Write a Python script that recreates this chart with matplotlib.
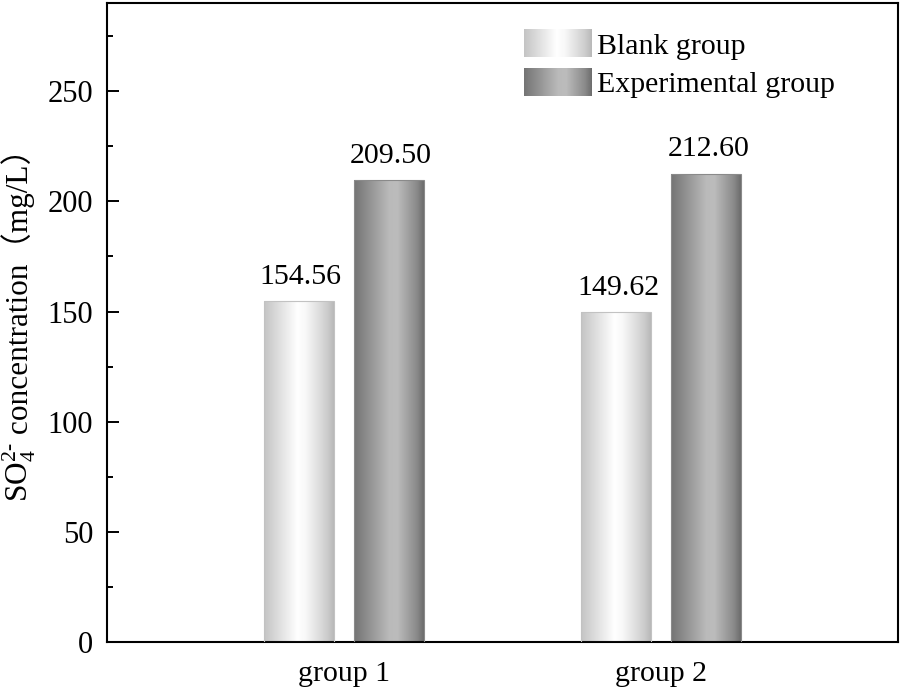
import numpy as np
import matplotlib
matplotlib.use("Agg")
import matplotlib.pyplot as plt
from matplotlib.colors import LinearSegmentedColormap
from matplotlib.legend_handler import HandlerBase
from matplotlib.image import BboxImage
from matplotlib.transforms import Bbox, TransformedBbox
from matplotlib.patches import Patch
from matplotlib.ticker import MultipleLocator

# data
groups = ['group 1', 'group 2']
series = ['Blank group', 'Experimental group']
blank = [154.56, 149.62]
experimental = [209.50, 212.60]

plt.rcParams['font.family'] = ['Liberation Serif', 'Noto Sans CJK SC', 'DejaVu Sans']
plt.rcParams['font.size'] = 21
plt.rcParams['mathtext.fontset'] = 'custom'
plt.rcParams['mathtext.rm'] = 'Liberation Serif'
plt.rcParams['mathtext.it'] = 'Liberation Serif:italic'
plt.rcParams['mathtext.bf'] = 'Liberation Serif:bold'

# cylinder-like shading for the bars
cm_blank = LinearSegmentedColormap.from_list(
    'blank', [(0, '#c4c4c4'), (0.48, '#ffffff'), (0.6, '#f8f8f8'), (0.9, '#cdcdcd'), (1, '#b8b8b8')])
cm_exp = LinearSegmentedColormap.from_list(
    'exp', [(0, '#747474'), (0.5, '#bababa'), (0.62, '#bcbcbc'), (0.9, '#8a8a8a'), (1, '#6c6c6c')])
grad = np.linspace(0, 1, 256).reshape(1, -1)


class GradientHandler(HandlerBase):
    def __init__(self, cmap):
        super().__init__()
        self.cmap = cmap

    def create_artists(self, legend, orig_handle, xdescent, ydescent,
                       width, height, fontsize, trans):
        bb = TransformedBbox(Bbox.from_bounds(-xdescent, -ydescent, width, height), trans)
        img = BboxImage(bb, cmap=self.cmap, interpolation='bicubic')
        img.set_data(grad)
        return [img]


fig = plt.figure(figsize=(9.05, 6.89), dpi=100)
ax = fig.add_axes([0.1182, 0.0682, 0.8741, 0.9274])

x = np.arange(1, len(groups) + 1)
w = 0.22
off = 0.1415

for vals, shift, cmap, ec in [(blank, -off, cm_blank, '#c2c2c2'),
                              (experimental, off, cm_exp, '#8a8a8a')]:
    bars = ax.bar(x + shift, vals, w, color='none', edgecolor=ec, linewidth=0.8, zorder=3)
    for rect, v in zip(bars, vals):
        x0, y0 = rect.get_x(), rect.get_y()
        im = ax.imshow(grad, cmap=cmap, aspect='auto', interpolation='bicubic',
                       extent=[x0, x0 + rect.get_width(), y0, y0 + rect.get_height()], zorder=2)
        im.set_clip_path(rect)
        ax.text(rect.get_x() + rect.get_width() / 2 + 0.006, v + 8.0, f'{v:.2f}',
                ha='center', va='baseline', fontsize=21.5)

ax.set_xlim(0.255, 2.745)
ax.set_ylim(0, 290)
ax.set_xticks(x, groups)
ax.tick_params(axis='x', length=0, pad=14, labelsize=21.5)
ax.yaxis.set_major_locator(MultipleLocator(50))
ax.yaxis.set_minor_locator(MultipleLocator(25))
ax.tick_params(axis='y', which='major', direction='in', length=8.6, width=1.4, pad=10, labelsize=22)
ax.tick_params(axis='y', which='minor', direction='in', length=4.3, width=1.4)
for s in ax.spines.values():
    s.set_linewidth(1.5)

h1, h2 = Patch(label=series[0]), Patch(label=series[1])
ax.legend(handles=[h1, h2], handler_map={h1: GradientHandler(cm_blank), h2: GradientHandler(cm_exp)},
          loc='upper left', bbox_to_anchor=(0.527, 0.958), frameon=False, borderpad=0,
          borderaxespad=0, handlelength=2.25, handleheight=1.02, labelspacing=0.3,
          handletextpad=0.2, fontsize=21.5)

# y label: mathtext part, then the rest (starts with a Latin char so fallback stays aligned)
fig.canvas.draw()
renderer = fig.canvas.get_renderer()
xb = 28 / 905
yb = (689 - 502) / 689
t1 = fig.text(xb, yb, 'SO$_4^{2\\text{-}}$', rotation=90, rotation_mode='anchor',
              ha='left', va='baseline', fontsize=22.5)
ext = t1.get_window_extent(renderer)
rest = ' concentration（mg/L）'
t2 = fig.text(0, 0, rest, fontsize=22.5)
_, _, d = renderer.get_text_width_height_descent(rest, t2.get_fontproperties(), ismath=False)
t2.set_position((xb + d / fig.bbox.width, ext.y1 / fig.bbox.height))
t2.set_rotation(90)
t2.set_rotation_mode('anchor')
t2.set_va('bottom')

fig.savefig('out.png', dpi=100)
